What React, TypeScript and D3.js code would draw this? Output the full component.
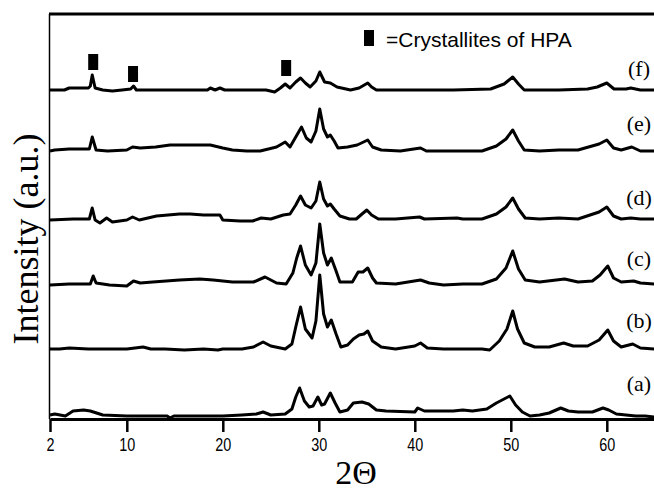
import React, { useEffect, useRef } from 'react';
import * as d3 from 'd3';

const W = 654;
const H = 492;

const xTicks = [2, 10, 20, 30, 40, 50, 60];
const traceNames = ['(a)', '(b)', '(c)', '(d)', '(e)', '(f)'];
const offsets = [4, 70, 136, 200, 268, 329];

const traceA: [number, number][] = [
  [2, 0], [2.5, 1], [3.6, -1], [4.4, 4], [5.5, 5], [6.2, 4], [7.5, 0], [10, -1], [12, -1], [14.2, -1],
  [14.5, -3], [14.9, -1], [16, -1], [20, -1], [22, 0], [23.5, 1], [24.2, 3], [25, 0], [26.5, 1], [27.2, 6],
  [27.6, 18], [28.0, 27], [28.5, 14], [29.0, 8], [29.4, 9], [29.9, 18], [30.3, 10], [30.6, 11], [31.2, 22],
  [31.7, 12], [32.2, 3], [33, 5], [33.6, 12], [34.5, 13], [35.2, 11], [36, 5], [37, 4], [40, 3], [40.3, 7],
  [41, 4], [44, 4], [45, 5], [46, 4], [47.5, 6], [48.5, 12], [49.9, 19], [50.5, 10], [51.2, 3], [52, -1],
  [53, 0], [54, 2], [55.2, 7], [56, 4], [57, 3], [58.5, 3], [59.6, 7], [60.2, 5], [61, 1], [62, 0], [63, -1],
  [64, -1], [65, -2],
];
const traceB: [number, number][] = [
  [2, 0], [3, 0], [4, 1], [6, 0], [8, 0], [10, 0], [11.7, 2], [12.5, 0], [14, 0], [16, -1], [18, 0], [19.5, -1],
  [20, 0], [22, 0], [23.2, 2], [24.2, 7], [25, 3], [26.5, 0], [27.2, 5], [27.6, 22], [28.1, 42], [28.6, 20],
  [29.3, 11], [29.7, 28], [30.1, 74], [30.5, 35], [30.9, 22], [31.3, 29], [31.8, 15], [32.3, 2], [33, 4],
  [33.6, 10], [34.2, 14], [34.7, 15], [35.1, 18], [35.6, 8], [36.5, 2], [38, 0], [40, 3], [40.6, 6], [41.3, 1],
  [43, 0], [45, 0], [47, 0], [47.8, -1], [48.8, 8], [49.6, 20], [50.2, 38], [50.7, 20], [51.4, 6], [52.5, 2],
  [54, 2], [55.5, 6], [56.5, 3], [58, 3], [59.2, 9], [60.1, 19], [60.7, 8], [61.5, 2], [62.7, 5], [63.5, 1],
  [65, 0],
];
const traceC: [number, number][] = [
  [2, -2], [4, -1], [6.2, -1], [6.5, 7], [6.8, 0], [8.2, -2], [10, -3], [10.7, 2], [11.4, 0], [12.7, 1],
  [15.5, 3], [17.6, 4], [19, 3], [21, 1], [23.2, 1], [24.4, 6], [25.6, 0], [26.6, -1], [27.3, 10], [27.7, 25],
  [28.1, 37], [28.6, 18], [29.2, 8], [29.7, 20], [30.1, 59], [30.5, 30], [30.9, 18], [31.3, 25], [31.8, 12],
  [32.2, 1], [33.5, 1], [34.1, 11], [34.6, 11], [35.1, 15], [35.6, 5], [36, 0], [38, -1], [40.6, 3], [41.5, 0],
  [43, -2], [45, -1], [47, -1], [48.5, 4], [49.5, 15], [50.2, 32], [50.8, 14], [51.5, 3], [53, 1], [55.6, 4],
  [57, 1], [58.5, 2], [59.3, 8], [60.1, 17], [60.7, 5], [61.5, 1], [62.8, 2], [63.5, 0], [65, -1],
];
const traceD: [number, number][] = [
  [2, -1], [4.4, 0], [6.1, 0], [6.4, 11], [6.7, -1], [7.2, -4], [7.9, 1], [8.5, -3], [10, -1], [10.6, 2],
  [11.3, -1], [13.1, 3], [15.5, 5], [16.6, 5], [18, 4], [19.7, 4], [20, -1], [21.8, -2], [23.1, -2], [24, 1],
  [25, 0], [26.3, 4], [27, 5], [27.6, 14], [28.1, 23], [28.6, 14], [29.2, 11], [29.7, 18], [30.1, 37],
  [30.5, 20], [30.9, 13], [31.2, 15], [31.6, 10], [32.2, 3], [33.2, 0], [33.9, 0], [34.5, 5], [35, 9],
  [35.5, 4], [36.2, 0], [38, 0], [40.5, 2], [41, 0], [44.4, 1], [45, 0], [47, 0], [48.5, 5], [49.5, 12],
  [50.2, 21], [50.8, 10], [51.5, 1], [53, 0], [55, 1], [57, 0], [59.2, 7], [60, 12], [60.7, 3], [61.5, 0],
  [62.5, 1], [63.5, 0], [65, 0],
];
const traceE: [number, number][] = [
  [2, 0], [2.5, 1], [4, 2], [6.1, 2], [6.4, 14], [6.8, 1], [8, 0], [10, 1], [10.6, 4], [11.4, 3], [13, 4],
  [14.5, 6], [16.5, 6], [18.7, 6], [20, 3], [21, 1], [22.5, 0], [23.9, 0], [25.6, 4], [26.5, 9], [27, 4],
  [27.6, 14], [28.2, 24], [28.7, 13], [29.2, 9], [29.7, 20], [30.1, 42], [30.5, 22], [30.9, 14], [31.2, 16],
  [31.6, 10], [32, 3], [33, 4], [34, 6], [35.1, 11], [35.6, 4], [36.5, 1], [38.5, 0], [40.6, 3], [41.2, 0],
  [44, 0], [47, 0], [48.5, 5], [49.5, 12], [50.2, 21], [50.8, 10], [51.4, 1], [53, 0], [55, 1], [57, 1],
  [59.2, 7], [60, 11], [60.7, 3], [61.5, 1], [62.6, 4], [63.5, 0], [65, 0],
];
const traceF: [number, number][] = [
  [2, 0], [3.5, 0], [4, 2], [6, 2], [6.2, 4], [6.4, 15], [6.7, 2], [7.5, 0], [8.5, -1], [9.5, 0], [10.4, 1],
  [10.7, 4], [11, 0], [14, 0], [16, 0], [18.4, 0], [18.7, 2], [19.2, 0], [19.7, 2], [20.2, 0], [22, 0],
  [24.5, 0], [25.4, -2], [26, 2], [26.5, 6], [27, 2], [27.6, 8], [28.1, 12], [28.6, 7], [29.1, 3], [29.7, 9],
  [30.1, 18], [30.6, 8], [31.2, 7], [31.9, 3], [33.3, 0], [34.2, 2], [35.1, 7], [35.5, 3], [36, 0], [40, 0],
  [44, 0], [47.9, 1], [49.3, 6], [50.2, 13], [50.8, 6], [51.4, 0], [55, 0], [58, 1], [59, 3], [60, 7],
  [60.75, 1], [62, 1], [62.5, 2], [63.5, 0], [65, 0],
];
const traces = [traceA, traceB, traceC, traceD, traceE, traceF];

// HPA crystallite markers: [2θ, intensity position]
const hpaMarkers: [number, number][] = [[6.5, 357], [10.65, 345], [26.6, 351]];

const M = { left: 50, right: 0, top: 14, bottom: 419 };

export default function App() {
  const axisRef = useRef<SVGGElement>(null);
  const x = d3.scaleLinear().domain([2, 65]).range([M.left, 654.8]);
  const y = d3.scaleLinear().domain([0, 405]).range([M.bottom, M.top]);
  const line = d3
    .line<[number, number]>()
    .x((d) => x(d[0]))
    .y((d) => y(d[1]));

  useEffect(() => {
    if (!axisRef.current) return;
    const g = d3.select(axisRef.current);
    g.selectAll('*').remove();
    g.call(d3.axisBottom(x).tickValues(xTicks).tickSize(13).tickSizeOuter(0).tickPadding(6).tickFormat(d3.format('d')));
    g.select('.domain').attr('stroke', '#000').attr('stroke-width', 3);
    g.selectAll('.tick line').attr('stroke', '#000').attr('stroke-width', 2.5);
    g.selectAll('.tick text')
      .attr('fill', '#000')
      .attr('font-family', '"Liberation Sans", Arial, sans-serif')
      .attr('font-size', 18)
      .attr('transform', 'scale(0.8,1)');
  }, []);

  const labelY = [383, 320, 258, 197, 123, 68];

  return (
    <svg width={W} height={H} style={{ position: 'absolute', left: 0, top: 0, background: '#fff' }}>
      <rect x={0} y={0} width={W} height={H} fill="#fff" />
      {/* frame */}
      <line x1={49} x2={W} y1={M.top} y2={M.top} stroke="#000" strokeWidth={3} />
      <line x1={49.5} x2={49.5} y1={M.top} y2={M.bottom} stroke="#000" strokeWidth={1.5} />
      {traces.map((t, i) => (
        <path
          key={i}
          d={line(t.map((p) => [p[0], p[1] + offsets[i]] as [number, number])) || ''}
          fill="none"
          stroke="#000"
          strokeWidth={3}
          strokeLinejoin="round"
        />
      ))}
      <g ref={axisRef} transform={`translate(0,${M.bottom})`} />
      {hpaMarkers.map((m, i) => (
        <rect key={i} x={x(m[0]) - 5} y={y(m[1]) - 8} width={10} height={16} fill="#000" />
      ))}
      {traceNames.map((n, i) => (
        <text
          key={n}
          x={639}
          y={labelY[i]}
          dy="0.35em"
          textAnchor="middle"
          fontFamily='"Liberation Serif", "Times New Roman", serif'
          fontSize={22}
        >
          {n}
        </text>
      ))}
      {/* legend */}
      <rect x={364} y={30} width={10} height={16} fill="#000" />
      <text x={386} y={47} fontFamily='"Liberation Sans", Arial, sans-serif' fontSize={21}>
        =Crystallites of HPA
      </text>
      {/* axis titles */}
      <text
        transform="translate(38,239) rotate(-90)"
        textAnchor="middle"
        fontFamily='"Liberation Serif", "Times New Roman", serif'
        fontSize={36}
      >
        Intensity (a.u.)
      </text>
      <text x={356} y={484} textAnchor="middle" fontFamily='"Liberation Serif", "Times New Roman", serif' fontSize={34}>
        2Θ
      </text>
    </svg>
  );
}
